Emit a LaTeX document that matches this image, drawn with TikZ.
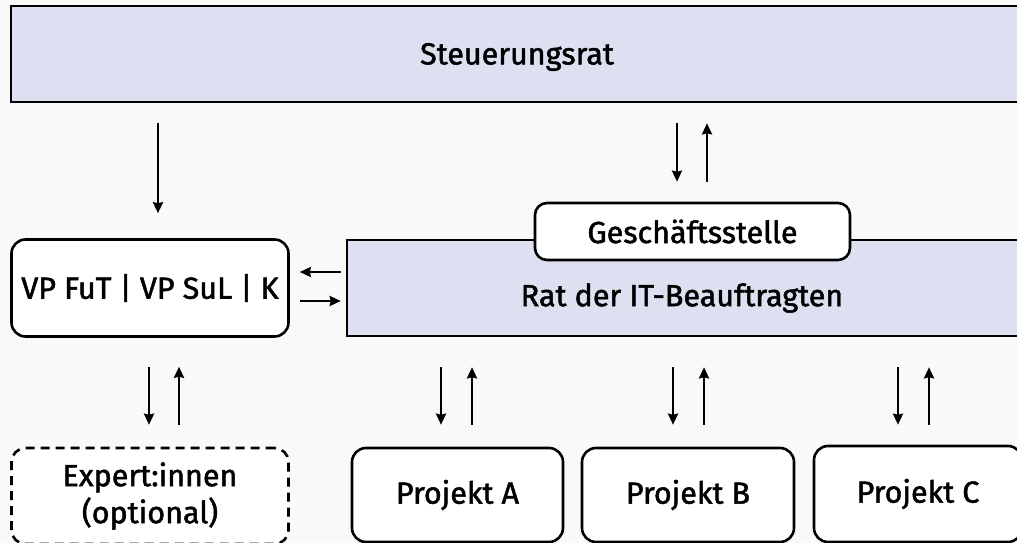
\documentclass[tikz,border=0pt]{standalone}
\usepackage{fontspec}
\setmainfont{Fira Sans}[UprightFeatures={FakeBold=1.6}]
\usetikzlibrary{arrows.meta,calc}
\definecolor{bgc}{HTML}{F9F9F9}
\definecolor{lav}{HTML}{DCE0F0}
\newcommand{\lbl}{\fontsize{30.5}{36}\selectfont}
\begin{document}
\begin{tikzpicture}[x=1pt,y=-1pt,
  box/.style={draw=black,line width=2.6pt,inner sep=0pt,font=\lbl},
  rbox/.style={box,fill=white,rounded corners=14pt},
  arr/.style={line width=2.4pt,-{Stealth[length=11pt,width=10pt,inset=1pt]}}]
\useasboundingbox (0,0) rectangle (1017,543);
\fill[bgc] (0,0) rectangle (1017,543);
\begin{scope}
\clip (0,0) rectangle (1017,543);
% nodes
\node[box,fill=lav,minimum width=1014pt,minimum height=96pt] (S) at (518,54) {};
\node[font=\lbl] (St) at (517,57) {Steuerungsrat};
\node[box,fill=lav,minimum width=673pt,minimum height=96pt] (R) at (683.5,288) {};
\node[font=\lbl] (Rt) at (682,298) {Rat der IT-Beauftragten};
\node[rbox,minimum width=315pt,minimum height=57pt,rounded corners=12pt] (G) at (692.5,231.5) {Geschäftsstelle};
\node[rbox,minimum width=277pt,minimum height=97pt] (VP) at (150,288) {VP FuT | VP SuL | K};
\node[rbox,dashed,dash pattern=on 9pt off 6pt,minimum width=277pt,minimum height=96pt,align=center,font=\fontsize{30.5}{37}\selectfont] (E) at (150,496) {Expert:innen\\(optional)};
\node[rbox,minimum width=211pt,minimum height=94pt] (A) at (457.5,495) {Projekt A};
\node[rbox,minimum width=212pt,minimum height=94pt] (B) at (688,495) {Projekt B};
\node[rbox,minimum width=208pt,minimum height=96pt] (C) at (918,494) {Projekt C};
% connectors
\draw[arr] ($(S.south -| VP.north)+(8,20)$) -- ($(VP.north)+(8,-25)$);
\draw[arr] ($(S.south -| G.north)+(-15.5,20)$) -- ($(G.north)+(-15.5,-20)$);
\draw[arr] ($(G.north)+(14.5,-20)$) -- ($(S.south -| G.north)+(14.5,20)$);
\draw[arr] ($(R.west)+(-5,-16)$) -- ($(VP.east |- R.west)+(10,-16)$);
\draw[arr] ($(VP.east |- R.west)+(10,13)$) -- ($(R.west)+(-5,13)$);
\draw[arr] ($(VP.south)+(-1,29)$) -- ($(E.north)+(-1,-22)$);
\draw[arr] ($(E.north)+(29,-22)$) -- ($(VP.south)+(29,29)$);
\draw[arr] ($(R.south -| A.north)+(-16.5,30)$) -- ($(A.north)+(-16.5,-22)$);
\draw[arr] ($(A.north)+(14.5,-22)$) -- ($(R.south -| A.north)+(14.5,30)$);
\draw[arr] ($(R.south -| B.north)+(-15,30)$) -- ($(B.north)+(-15,-22)$);
\draw[arr] ($(B.north)+(16,-22)$) -- ($(R.south -| B.north)+(16,30)$);
\draw[arr] ($(R.south -| C.north)+(-20,30)$) -- ($(C.north)+(-20,-20)$);
\draw[arr] ($(C.north)+(11,-20)$) -- ($(R.south -| C.north)+(11,30)$);
\end{scope}
\end{tikzpicture}
\end{document}
